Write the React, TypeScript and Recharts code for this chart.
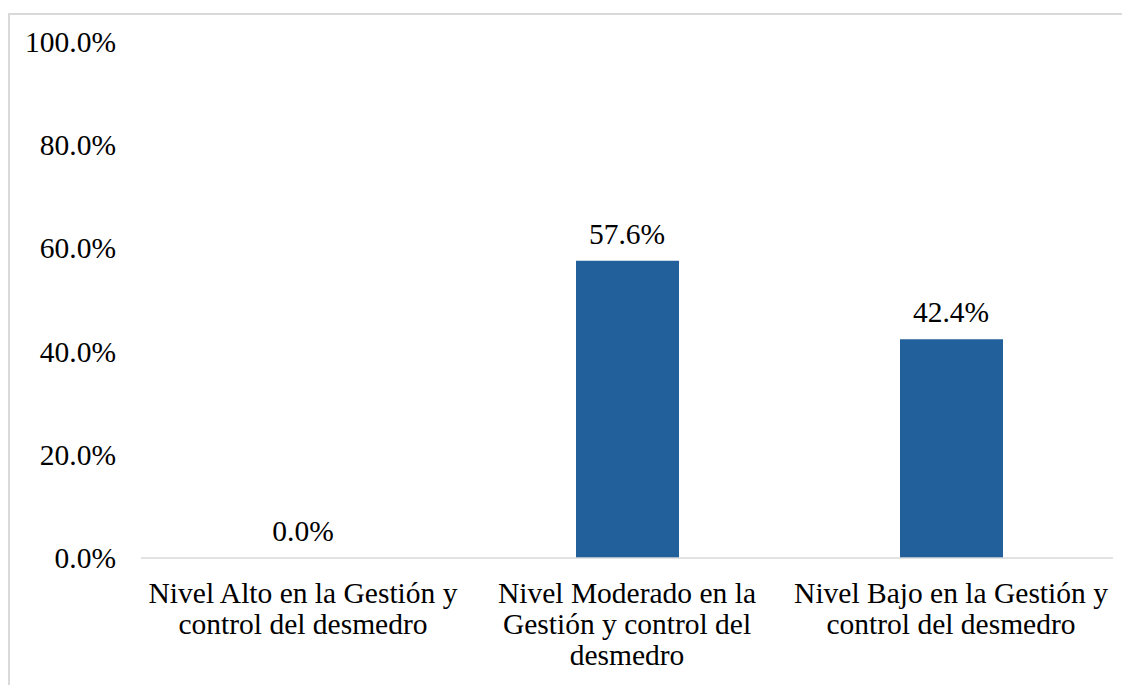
import React from 'react';
import { ComposedChart, Bar, Line, XAxis, YAxis, LabelList } from 'recharts';

const categories = [
  ['Nivel Alto en la Gestión y', 'control del desmedro'],
  ['Nivel Moderado en la', 'Gestión y control del', 'desmedro'],
  ['Nivel Bajo en la Gestión y', 'control del desmedro'],
];
const porcentajes = [0.0, 57.6, 42.4];
const yTicks = [0, 20, 40, 60, 80, 100];

const FONT = 'Liberation Serif';
const BAR_COLOR = '#22609B';
const LINE_COLOR = '#d9d9d9';
const textStyle = { fontFamily: FONT, fontSize: 29.5 };

const data = categories.map((lines, i) => ({
  name: lines.join(' '),
  value: porcentajes[i],
}));

const pct = (v: number) => `${Number(v).toFixed(1)}%`;

// etiqueta de categoría en varias líneas, centrada bajo la barra
const CategoryTick = (props: any) => {
  const { x, y, payload } = props;
  const lines = categories[payload.index] ?? [payload.value];
  return (
    <text x={x} y={y} textAnchor="middle" fill="#000" style={textStyle}>
      {lines.map((l: string, i: number) => (
        <tspan key={i} x={x} dy={i === 0 ? 45 : 31}>
          {l}
        </tspan>
      ))}
    </text>
  );
};

const YTick = (props: any) => {
  const { x, y, payload } = props;
  return (
    <text x={x} y={y} dy={10} textAnchor="end" fill="#000" style={textStyle}>
      {pct(payload.value)}
    </text>
  );
};

export default function App() {
  return (
    <div style={{ position: 'relative', width: 1122, height: 677, overflow: 'hidden' }}>
      <div
        style={{
          position: 'absolute',
          left: 0,
          top: 5,
          width: 1200,
          height: 800,
          border: `2px solid ${LINE_COLOR}`,
          boxSizing: 'border-box',
        }}
      />
      <div style={{ position: 'absolute', left: 0, top: 0 }}>
        <ComposedChart
          width={1122}
          height={677}
          data={data}
          margin={{ top: 34, right: 17, bottom: 0, left: 0 }}
        >
          <XAxis
            dataKey="name"
            axisLine={{ stroke: LINE_COLOR, strokeWidth: 1.5 }}
            tickLine={false}
            interval={0}
            tick={<CategoryTick />}
            tickSize={0}
            tickMargin={0}
            height={127}
          />
          <YAxis
            domain={[0, 100]}
            ticks={yTicks}
            width={133}
            axisLine={false}
            tickLine={false}
            tickSize={0}
            tickMargin={25}
            tick={<YTick />}
          />
          <Bar dataKey="value" fill={BAR_COLOR} barSize={103} isAnimationActive={false} />
          {/* serie invisible: solo sirve para poner el valor encima de cada barra, incluida la de 0 */}
          <Line
            dataKey="value"
            stroke="none"
            dot={false}
            activeDot={false}
            legendType="none"
            isAnimationActive={false}
          >
            <LabelList
              dataKey="value"
              position="top"
              offset={17}
              formatter={pct}
              fill="#000"
              style={textStyle}
            />
          </Line>
        </ComposedChart>
      </div>
    </div>
  );
}
